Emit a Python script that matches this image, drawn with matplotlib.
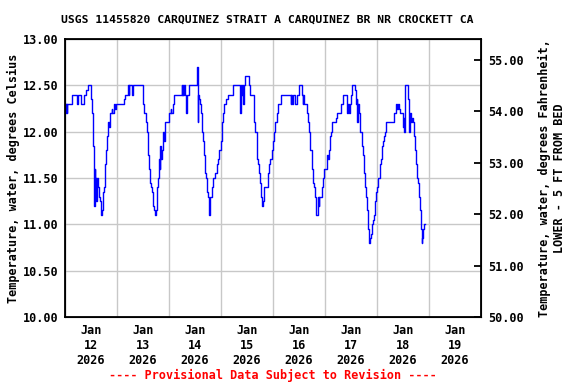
import numpy as np
import pandas as pd
import matplotlib
matplotlib.use('Agg')
import matplotlib.pyplot as plt
import matplotlib.dates as mdates

# horas desde 2026-01-12 00:00 y temperatura del agua (C)
horas = [0.0, 0.25, 0.5, 0.75, 1.0, 3.1, 5.7, 6.15, 7.2, 8.9, 9.7, 10.8, 11.8, 12.3, 12.8,
         13.1, 13.4, 13.6, 13.8, 14.0, 14.2, 14.5, 14.8, 15.4, 15.8, 16.3, 16.8, 17.2, 17.7,
         18.1, 18.6, 19.1, 19.5, 20.0, 20.3, 20.8, 21.5, 21.8, 22.8, 23.3, 23.5, 27.4, 27.8,
         29.2, 29.4, 29.6, 30.3, 30.8, 31.5, 36.1, 36.6, 37.4, 38.0, 38.4, 38.9, 39.4, 39.8,
         40.3, 40.8, 41.2, 41.5, 41.8, 42.3, 43.1, 43.5, 43.8, 44.0, 44.3, 44.6, 45.0, 45.4,
         45.7, 46.1, 48.2, 48.8, 49.0, 49.7, 50.5, 53.85, 54.1, 54.4, 54.6, 55.0, 55.3, 55.85,
         56.5, 57.4, 61.1, 61.3, 61.5, 62.0, 62.3, 62.6, 63.1, 63.5, 64.15, 64.5, 64.75, 65.1,
         65.4, 66.0, 66.3, 66.6, 66.8, 66.9, 67.1, 67.7, 68.5, 69.2, 70.0, 70.5, 71.2, 72.0,
         72.5, 72.6, 73.1, 73.5, 74.3, 75.1, 77.7, 80.8, 81.1, 81.4, 81.7, 82.0, 82.3, 82.5,
         83.2, 85.1, 85.5, 87.1, 87.4, 87.8, 88.6, 88.75, 89.1, 89.5, 90.0, 90.45, 90.9, 91.4,
         91.7, 93.85, 94.3, 94.8, 95.4, 96.15, 96.6, 97.1, 97.7, 98.15, 99.5, 104.3, 104.45,
         104.9, 105.1, 106.3, 106.9, 107.8, 109.5, 109.7, 110.0, 110.3, 111.5, 112.3, 112.8,
         113.2, 113.8, 114.3, 114.8, 115.2, 115.7, 116.0, 116.6, 116.9, 117.1, 117.4, 118.6,
         118.9, 119.4, 120.5, 121.1, 121.4, 121.7, 122.15, 122.6, 123.1, 124.9, 125.4, 127.5,
         128.5, 130.0, 130.3, 130.6, 131.1, 131.4, 131.8, 132.3, 134.0, 134.3, 134.6, 134.9,
         135.1, 135.5, 136.1, 137.1, 137.5, 137.8, 138.3, 138.8, 139.2, 139.7, 140.15, 140.9,
         141.2, 141.7, 142.15, 142.6, 143.1, 143.5, 144.0, 144.5, 145.4, 145.8, 146.2, 146.6,
         147.2, 147.7, 148.15, 152.0, 152.8, 152.9, 153.2, 153.5, 154.3, 154.8, 156.0, 156.15,
         156.3, 156.6, 156.75, 157.1, 158.5, 158.8, 159.1, 159.4, 159.7, 160.0, 160.45, 161.1,
         161.5, 162.0, 162.6, 163.1, 163.5, 164.0, 164.3, 164.6, 164.9, 165.1, 165.8, 166.3]
temp_c = [12.3, 12.2, 12.3, 12.2, 12.3, 12.4, 12.3, 12.4, 12.3, 12.4, 12.45, 12.5, 12.35, 12.2, 12.0,
          11.85, 11.5, 11.2, 11.6, 11.3, 11.5, 11.25, 11.5, 11.4, 11.3, 11.25, 11.1, 11.15, 11.35,
          11.4, 11.65, 11.8, 11.95, 12.1, 12.05, 12.2, 12.25, 12.2, 12.3, 12.25, 12.3, 12.35, 12.4,
          12.5, 12.4, 12.5, 12.5, 12.4, 12.5, 12.3, 12.2, 12.1, 12.0, 11.75, 11.6, 11.45, 11.4,
          11.35, 11.2, 11.15, 11.1, 11.15, 11.4, 11.5, 11.7, 11.6, 11.85, 11.7, 11.8, 11.9, 12.0,
          11.9, 12.1, 12.2, 12.25, 12.2, 12.3, 12.4, 12.5, 12.4, 12.5, 12.4, 12.5, 12.4, 12.2,
          12.4, 12.5, 12.7, 12.1, 12.4, 12.35, 12.3, 12.2, 12.0, 11.9, 11.75, 11.65, 11.55, 11.5,
          11.35, 11.3, 11.25, 11.1, 11.2, 11.15, 11.3, 11.4, 11.5, 11.55, 11.65, 11.7, 11.8, 11.9,
          12.0, 12.1, 12.2, 12.3, 12.35, 12.4, 12.5, 12.2, 12.4, 12.5, 12.4, 12.5, 12.3, 12.5,
          12.6, 12.5, 12.4, 12.3, 12.1, 12.0, 11.85, 11.7, 11.65, 11.55, 11.45, 11.3, 11.2, 11.25,
          11.4, 11.55, 11.65, 11.7, 11.8, 11.9, 12.0, 12.1, 12.2, 12.3, 12.4, 12.3, 12.4,
          12.3, 12.4, 12.3, 12.4, 12.5, 12.4, 12.3, 12.4, 12.3, 12.2, 12.1, 12.0,
          11.8, 11.6, 11.45, 11.4, 11.3, 11.15, 11.1, 11.15, 11.3, 11.2, 11.3, 11.4,
          11.5, 11.6, 11.6, 11.75, 11.7, 11.8, 11.95, 12.0, 12.1, 12.15, 12.2, 12.3,
          12.4, 12.3, 12.2, 12.3, 12.2, 12.3, 12.4, 12.5, 12.45, 12.3, 12.35, 12.1,
          12.3, 12.2, 12.0, 11.85, 11.75, 11.55, 11.4, 11.3, 11.15, 10.95, 10.8, 10.85,
          10.9, 11.0, 11.05, 11.1, 11.25, 11.35, 11.4, 11.5, 11.65, 11.7, 11.85, 11.9,
          11.95, 12.0, 12.1, 12.2, 12.25, 12.3, 12.25, 12.3, 12.25, 12.2, 12.15, 12.05,
          12.15, 12.0, 12.35, 12.5, 12.35, 12.0, 12.15, 12.2, 12.1, 12.15, 12.1, 11.95,
          11.8, 11.65, 11.5, 11.45, 11.3, 11.15, 10.95, 10.8, 10.85, 10.95, 11.0, 11.0]

titulo = 'USGS 11455820 CARQUINEZ STRAIT A CARQUINEZ BR NR CROCKETT CA'
etiqueta_izq = 'Temperature, water, degrees Celsius'
etiqueta_der = 'Temperature, water, degrees Fahrenheit,\nLOWER - 5 FT FROM BED'
aviso = '---- Provisional Data Subject to Revision ----'

plt.rcParams['font.family'] = 'DejaVu Sans Mono'
plt.rcParams['font.weight'] = 'bold'
plt.rcParams['axes.titleweight'] = 'bold'
plt.rcParams['axes.labelweight'] = 'bold'
plt.rcParams['font.size'] = 8.5
plt.rcParams['axes.titlesize'] = 8.5
plt.rcParams['axes.labelsize'] = 8.5

inicio = pd.Timestamp('2026-01-12')
tiempos = inicio + pd.to_timedelta(horas, unit='h')

fig = plt.figure(figsize=(5.76, 3.84), dpi=100)
ax = fig.add_axes([65 / 576, 1 - 317 / 384, 416 / 576, 278 / 384])

ax.plot(tiempos, temp_c, color='#0000ff', linewidth=1.0, drawstyle='steps-post')

ax.set_ylim(10, 13)
ax.set_yticks(np.arange(10, 13.01, 0.5))
ax.yaxis.set_major_formatter(plt.FormatStrFormatter('%.2f'))
ax.set_xlim(inicio, inicio + pd.Timedelta(days=8))

ax.xaxis.set_major_locator(mdates.DayLocator())
ax.xaxis.set_major_formatter(plt.NullFormatter())
ax.xaxis.set_minor_locator(mdates.HourLocator(byhour=12))
ax.xaxis.set_minor_formatter(mdates.DateFormatter('%b\n%d\n%Y'))
ax.tick_params(axis='x', which='both', length=0, pad=5)
ax.tick_params(axis='y', length=0, pad=5)
for t in ax.get_xticklabels(which='both') + ax.get_yticklabels():
    t.set_fontweight('bold')

ax.grid(True, which='major', color='#c8c8c8', linewidth=1.0)
ax.set_axisbelow(True)
for s in ax.spines.values():
    s.set_linewidth(1.3)

ax.set_ylabel(etiqueta_izq, labelpad=2, fontweight='bold')

# titulo centrado un poco a la izquierda, como en el original
fig.text(267 / 576, 1 - 20 / 384, titulo, ha='center', va='center',
         fontsize=8.2, fontweight='bold')

# eje derecho en Fahrenheit
ax2 = ax.twinx()
ax2.set_ylim(10 * 9 / 5 + 32, 13 * 9 / 5 + 32)
ax2.set_yticks(np.arange(50, 55.01, 1))
ax2.yaxis.set_major_formatter(plt.FormatStrFormatter('%.2f'))
ax2.tick_params(axis='y', direction='in', length=5, width=1.3, pad=5)
for t in ax2.get_yticklabels():
    t.set_fontweight('bold')
ax2.set_ylabel(etiqueta_der, labelpad=10, fontweight='bold')

fig.text(0.473, 1 - 375 / 384, aviso, color='red', ha='center', va='center',
         fontweight='bold')

plt.savefig('out.png', dpi=100)
plt.close()
